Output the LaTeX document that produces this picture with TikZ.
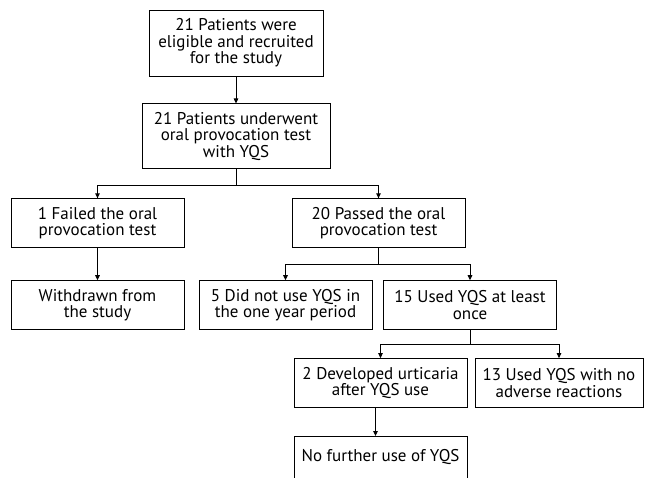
\documentclass[tikz,border=0pt]{standalone}
\usepackage{fontspec}
\setmainfont{PT Sans}
\usetikzlibrary{positioning,arrows.meta}

\begin{document}
\begin{tikzpicture}[x=1pt, y=1pt, line width=0.9pt, >={Triangle[length=5pt,width=4.5pt]},
    every node/.style={draw, rectangle, align=center, inner sep=2pt,
      minimum width=173pt, minimum height=49pt, font=\fontsize{17}{16.5}\selectfont}]
    \useasboundingbox (0,0) rectangle (645,-478);

    \node[minimum width=174pt, minimum height=66pt] (pat) at (236,-43) {21 Patients were\\eligible and recruited\\for the study};
    \node[below=27pt of pat, minimum width=188pt, minimum height=65pt] (test) {21 Patients underwent\\oral provocation test\\with YQS};

    \node[below=29pt of test, xshift=-138.5pt] (fail) {1 Failed the oral\\provocation test};
    \node[below=29pt of test, xshift=142.5pt] (pass) {20 Passed the oral\\provocation test};

    \node[below=32pt of fail] (wdrawn) {Withdrawn from\\the study};
    \node[below=32pt of pass, xshift=-93pt] (nouse) {5 Did not use YQS in\\the one year period};
    \node[below=32pt of pass, xshift=91.5pt] (used) {15 Used YQS at least\\once};

    \node[below=28pt of used, xshift=-89.5pt] (urtic) {2 Developed urticaria\\after YQS use};
    \node[below=28pt of used, xshift=89pt, minimum width=168pt] (noadv) {13 Used YQS with no\\adverse reactions};

    \node[below=28pt of urtic, minimum height=0pt, text height=23pt, text depth=40pt] (further) {No further use of YQS};

    \draw[->] (pat) -- (test);
    \draw[->] (test.south) -- ++(0,-16) -| (fail.north);
    \draw[->] (test.south) -- ++(0,-16) -| (pass.north);
    \draw[->] (fail) -- (wdrawn);
    \draw[->] (pass.south) -- ++(0,-16) -| (nouse.north);
    \draw[->] (pass.south) -- ++(0,-16) -| (used.north);
    \draw[->] (used.south) -- ++(0,-14) -| (urtic.north);
    \draw[->] (used.south) -- ++(0,-14) -| (noadv.north);
    \draw[->] ([xshift=-5pt]urtic.south) -- ([xshift=-5pt]further.north);
\end{tikzpicture}
\end{document}
